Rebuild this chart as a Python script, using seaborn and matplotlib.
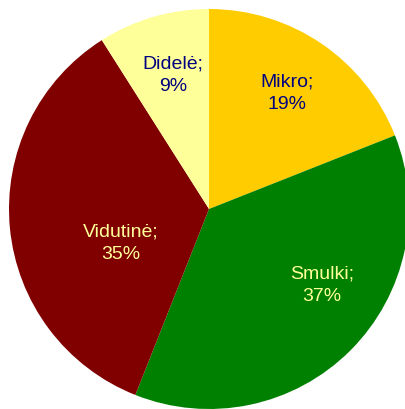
import matplotlib
matplotlib.use("Agg")
import matplotlib.pyplot as plt
import seaborn as sns

categories = ["Mikro", "Smulki", "Vidutinė", "Didelė"]
values = [19, 37, 35, 9]
colors = ["#FFCC00", "#008000", "#800000", "#FFFF99"]
label_colors = ["#000080", "#FFFF99", "#FFFF99", "#000080"]
label_pos = [(0.39, 0.585), (0.565, -0.375), (-0.44, -0.165), (-0.18, 0.675)]

sns.set_style("white")
plt.rcParams['font.family'] = ['Liberation Sans', 'DejaVu Sans']

fig = plt.figure(figsize=(4.06, 4.10), dpi=100)
ax = fig.add_axes([0, 0, 1, 1])
ax.pie(values, colors=colors, startangle=90, counterclock=False, radius=1.0,
       wedgeprops=dict(linewidth=0))
for cat, v, c, (x, y) in zip(categories, values, label_colors, label_pos):
    ax.text(x, y, f"{cat};\n{v}%", ha="center", va="center", color=c,
            fontsize=14, linespacing=1.45)
ax.set_aspect("auto")
ax.set_xlim(-209 / 200, (406 - 209) / 200)
ax.set_ylim(-(410 - 210) / 200, 210 / 200)
ax.axis("off")
fig.savefig("out.png", dpi=100, facecolor="white")
